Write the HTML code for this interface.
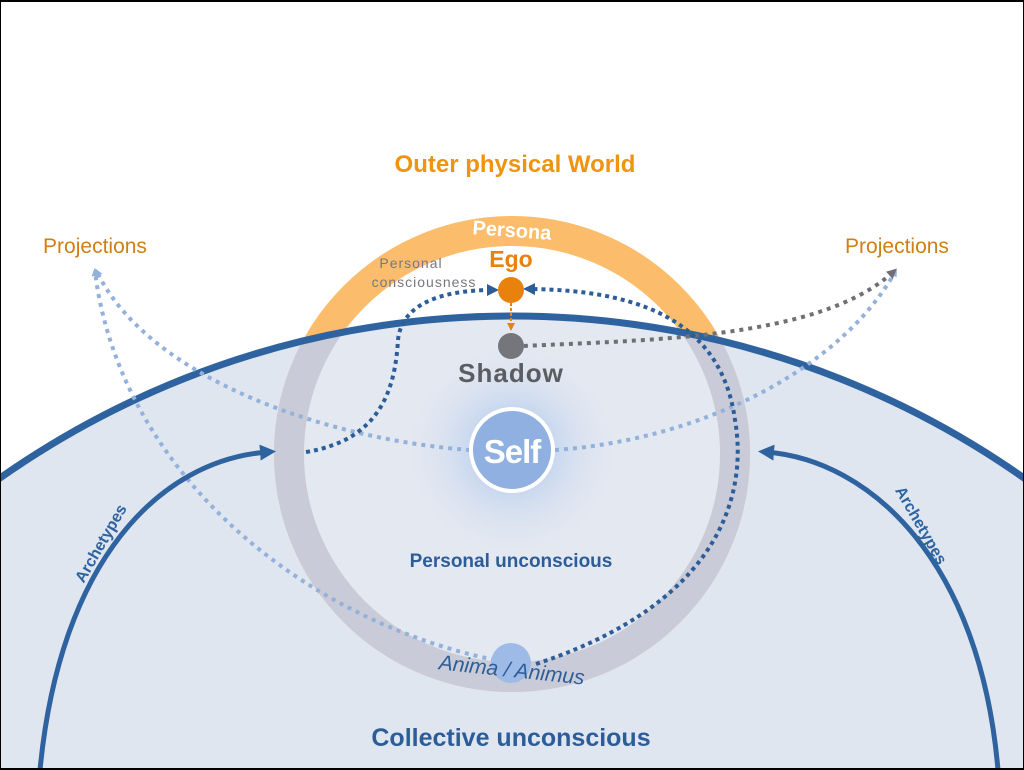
<!DOCTYPE html>
<html><head><meta charset="utf-8"><style>
html,body{margin:0;padding:0;background:#fff;overflow:hidden;width:1024px;height:770px;}
svg{display:block;}
text{font-family:"Liberation Sans",Arial,sans-serif;}
</style></head><body>
<svg width="1024" height="770" viewBox="0 0 1024 770" xmlns="http://www.w3.org/2000/svg">
<defs>
<clipPath id="big"><circle cx="512" cy="1206" r="890"/></clipPath>
<radialGradient id="glow" cx="0.5" cy="0.5" r="0.5">
<stop offset="0" stop-color="#a9c2e8" stop-opacity="1"/>
<stop offset="0.45" stop-color="#bdd0ee" stop-opacity="0.6"/>
<stop offset="1" stop-color="#dfe6f0" stop-opacity="0"/>
</radialGradient>
<marker id="aLight" markerWidth="8" markerHeight="8" refX="4" refY="4" orient="auto" markerUnits="userSpaceOnUse"><path d="M0,0 L8,4 L0,8 z" fill="#93b1da"/></marker>
<marker id="aGrey" markerWidth="10" markerHeight="10" refX="5" refY="5" orient="auto" markerUnits="userSpaceOnUse"><path d="M0,0 L10,5 L0,10 z" fill="#6f7075"/></marker>
<marker id="aDark" markerWidth="12" markerHeight="12" refX="6" refY="6" orient="auto" markerUnits="userSpaceOnUse"><path d="M0,0 L12,6 L0,12 z" fill="#2d5d98"/></marker>
<marker id="aBlue" markerWidth="16" markerHeight="16" refX="8" refY="8" orient="auto" markerUnits="userSpaceOnUse"><path d="M0,0 L16,8 L0,16 z" fill="#2e63a0"/></marker>
<marker id="aOr" markerWidth="8" markerHeight="8" refX="4" refY="4" orient="auto" markerUnits="userSpaceOnUse"><path d="M0,0 L8,4 L0,8 z" fill="#e8820c"/></marker>
</defs>
<rect x="0" y="0" width="1024" height="770" fill="#fff"/>
<circle cx="512" cy="1206" r="890" fill="#dfe6f0"/>
<circle cx="512" cy="454" r="223" fill="none" stroke="#fbbd6b" stroke-width="30"/>
<g clip-path="url(#big)">
<circle cx="512" cy="454" r="223" fill="none" stroke="#c9ccd8" stroke-width="30"/>
<circle cx="512" cy="454" r="208" fill="#e3e8f1"/>
<circle cx="512" cy="450" r="105" fill="url(#glow)"/>
</g>
<circle cx="512" cy="1206" r="890" fill="none" stroke="#2e63a0" stroke-width="7"/>
<text x="512" y="237" font-size="20" font-weight="bold" fill="#fff" text-anchor="middle" transform="rotate(4 512 230)">Persona</text>
<g fill="none" stroke="#93b1da" stroke-width="4" stroke-dasharray="4 5">
<path d="M470,450 C330,440 150,380 97,272" marker-end="url(#aLight)"/>
<path d="M495,660 C300,620 120,470 95,272" marker-end="url(#aLight)"/>
<path d="M555,450 C700,440 840,370 895,272" marker-end="url(#aLight)"/>
</g>
<path d="M524,346 C640,340 820,340 893,272" fill="none" stroke="#6f7075" stroke-width="4" stroke-dasharray="4 5" marker-end="url(#aGrey)"/>
<g fill="none" stroke="#2d5d98" stroke-width="4" stroke-dasharray="4 4">
<path d="M306,452 C380,440 395,390 398,340 C402,300 450,290 493,290" marker-end="url(#aDark)"/>
<path d="M536,664 C760,590 740,450 735,420 C720,310 620,290 529,289" marker-end="url(#aDark)"/>
</g>
<line x1="511" y1="303" x2="511" y2="327" stroke="#e8820c" stroke-width="2" stroke-dasharray="3 2" marker-end="url(#aOr)"/>
<circle cx="511" cy="290" r="13" fill="#e8820c"/>
<circle cx="511" cy="346" r="13" fill="#75767c"/>
<g fill="none" stroke="#2e63a0" stroke-width="5">
<path d="M40,770 C60,560 160,460 268,452" marker-end="url(#aBlue)"/>
<path d="M998,770 C980,560 870,460 766,452" marker-end="url(#aBlue)"/>
</g>
<circle cx="512" cy="450" r="41" fill="#8fb0e0" stroke="#fff" stroke-width="4"/>
<text x="512" y="463" font-size="33" font-weight="bold" fill="#fff" text-anchor="middle" letter-spacing="-1">Self</text>
<circle cx="511" cy="663" r="20" fill="#9dbbe6"/>
<text x="512" y="677" font-size="21" fill="#2d5d98" text-anchor="middle" font-style="italic" transform="rotate(6 512 668)">Anima / Animus</text>
<text x="515" y="172" font-size="24" font-weight="bold" fill="#ee9411" text-anchor="middle">Outer physical World</text>
<text x="95" y="253" font-size="21" fill="#cf7f13" text-anchor="middle">Projections</text>
<text x="897" y="253" font-size="21" fill="#cf7f13" text-anchor="middle">Projections</text>
<text x="511" y="267" font-size="23" font-weight="bold" fill="#e8820c" text-anchor="middle">Ego</text>
<text x="411" y="268" font-size="14" fill="#77777d" text-anchor="middle" letter-spacing="1">Personal</text>
<text x="424" y="287" font-size="14" fill="#77777d" text-anchor="middle" letter-spacing="1">consciousness</text>
<text x="511" y="382" font-size="26" font-weight="bold" fill="#5c5d62" text-anchor="middle" letter-spacing="1">Shadow</text>
<text x="511" y="567" font-size="19" font-weight="bold" fill="#2d5d98" text-anchor="middle">Personal unconscious</text>
<text x="511" y="746" font-size="25" font-weight="bold" fill="#2d5d98" text-anchor="middle">Collective unconscious</text>
<text x="102" y="548" font-size="16" font-weight="bold" fill="#2e63a0" text-anchor="middle" transform="rotate(-60 102 544)">Archetypes</text>
<text x="920" y="530" font-size="16" font-weight="bold" fill="#2e63a0" text-anchor="middle" transform="rotate(60 920 526)">Archetypes</text>
<rect x="0.5" y="0.5" width="1023" height="768" fill="none" stroke="#000" stroke-width="1"/>
<line x1="0" y1="1" x2="1024" y2="1" stroke="#000" stroke-width="2"/>
<line x1="0" y1="769" x2="1024" y2="769" stroke="#000" stroke-width="2"/>
</svg>
</body></html>
